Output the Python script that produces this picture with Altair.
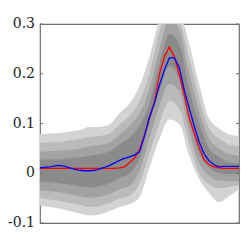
import altair as alt
import pandas as pd

# ---- data ----
x_line = list(range(41))
red = [0.01, 0.01, 0.01, 0.01, 0.01, 0.01, 0.01, 0.01, 0.01, 0.01,
       0.01, 0.01, 0.01, 0.01, 0.01, 0.01, 0.011, 0.013, 0.021, 0.031,
       0.047, 0.077, 0.111, 0.143, 0.199, 0.234, 0.254, 0.234, 0.198, 0.156,
       0.111, 0.081, 0.051, 0.027, 0.017, 0.013, 0.011, 0.01, 0.01, 0.01, 0.01]
blue = [0.011, 0.012, 0.013, 0.015, 0.016, 0.014, 0.011, 0.008, 0.006, 0.005,
        0.005, 0.006, 0.009, 0.012, 0.016, 0.021, 0.026, 0.030, 0.033, 0.037,
        0.043, 0.075, 0.113, 0.141, 0.177, 0.207, 0.232, 0.232, 0.213, 0.167,
        0.131, 0.095, 0.063, 0.039, 0.025, 0.017, 0.013, 0.014, 0.014, 0.014, 0.014]

x_band = list(range(0, 41, 2))
u4 = [0.079, 0.080, 0.081, 0.084, 0.087, 0.093, 0.093, 0.098, 0.121, 0.140, 0.175,
      0.233, 0.310, 0.360, 0.330, 0.260, 0.178, 0.110, 0.090, 0.078, 0.075]
u3 = [0.061, 0.062, 0.063, 0.066, 0.069, 0.073, 0.075, 0.080, 0.098, 0.115, 0.145,
      0.200, 0.285, 0.340, 0.310, 0.230, 0.150, 0.090, 0.070, 0.058, 0.055]
u2 = [0.043, 0.044, 0.045, 0.047, 0.050, 0.054, 0.057, 0.062, 0.078, 0.095, 0.120,
      0.170, 0.250, 0.310, 0.290, 0.200, 0.125, 0.070, 0.050, 0.038, 0.035]
u1 = [0.027, 0.028, 0.028, 0.030, 0.032, 0.035, 0.038, 0.044, 0.058, 0.072, 0.095,
      0.140, 0.220, 0.280, 0.260, 0.170, 0.100, 0.050, 0.033, 0.022, 0.019]
l1 = [-0.017, -0.018, -0.020, -0.023, -0.026, -0.028, -0.026, -0.020, -0.010, 0.000, 0.030,
      0.100, 0.165, 0.215, 0.190, 0.105, 0.040, 0.012, 0.000, -0.002, -0.002]
l2 = [-0.034, -0.036, -0.038, -0.042, -0.046, -0.049, -0.047, -0.041, -0.032, -0.025, 0.005,
      0.070, 0.135, 0.180, 0.165, 0.085, 0.020, -0.005, -0.015, -0.016, -0.016]
l3 = [-0.050, -0.053, -0.056, -0.060, -0.064, -0.068, -0.066, -0.060, -0.051, -0.045, -0.020,
      0.040, 0.100, 0.145, 0.130, 0.060, 0.000, -0.022, -0.030, -0.027, -0.024]
l4 = [-0.065, -0.068, -0.071, -0.076, -0.081, -0.085, -0.083, -0.076, -0.068, -0.062, -0.048,
      0.011, 0.069, 0.108, 0.099, 0.035, -0.012, -0.040, -0.058, -0.046, -0.032]

band_colors = ["#d3d3d3", "#bababa", "#a2a2a2", "#8b8b8b"]
y_ticks = [-0.1, 0, 0.1, 0.2, 0.3]
y_labels = ["-0.1", "0", "0.1", "0.2", "0.3"]

# ---- chart ----
FONT = "DejaVu Serif"
xs = alt.Scale(domain=[0, 40], nice=False, padding=0)
ys = alt.Scale(domain=[-0.1, 0.3], nice=False)

layers = []
for lo, hi, col in [(l4, u4, band_colors[0]), (l3, u3, band_colors[1]),
                    (l2, u2, band_colors[2]), (l1, u1, band_colors[3])]:
    df = pd.DataFrame({"x": x_band, "lo": lo, "hi": hi})
    layers.append(
        alt.Chart(df).mark_area(color=col, clip=True, interpolate="monotone").encode(
            x=alt.X("x:Q", scale=xs, axis=None),
            y=alt.Y("lo:Q", scale=ys, axis=None),
            y2="hi:Q",
        )
    )

df_lines = pd.DataFrame({"x": x_line, "red": red, "blue": blue})
layers.append(alt.Chart(df_lines).mark_line(color="#ff0000", strokeWidth=1.3, clip=True).encode(
    x=alt.X("x:Q", scale=xs, axis=None), y=alt.Y("red:Q", scale=ys, axis=None)))
layers.append(alt.Chart(df_lines).mark_line(color="#0000ff", strokeWidth=1.3, clip=True).encode(
    x=alt.X("x:Q", scale=xs, axis=None), y=alt.Y("blue:Q", scale=ys, axis=None)))

df_ticks = pd.DataFrame({"t": y_ticks, "lab": y_labels})
layers.append(alt.Chart(df_ticks).mark_rule(color="#6e6e6e").encode(
    y=alt.Y("t:Q", scale=ys, axis=None), x=alt.value(0), x2=alt.value(3)))
layers.append(alt.Chart(df_ticks).mark_rule(color="#6e6e6e").encode(
    y=alt.Y("t:Q", scale=ys, axis=None), x=alt.value(196), x2=alt.value(199)))
layers.append(alt.Chart(df_ticks).mark_text(
    font=FONT, fontSize=14, color="#222222", align="right", baseline="middle", dx=-5
).encode(
    y=alt.Y("t:Q", scale=ys, axis=None), x=alt.value(0), text="lab:N"))

chart = alt.layer(*layers).properties(
    width=199, height=199,
    autosize=alt.AutoSizeParams(type="none"),
    padding={"left": 32, "top": 16, "right": 1, "bottom": 17},
).configure_view(
    stroke="#6e6e6e", strokeWidth=1.2
)

chart.save("out.html", embed_options={"renderer": "svg", "actions": False})
